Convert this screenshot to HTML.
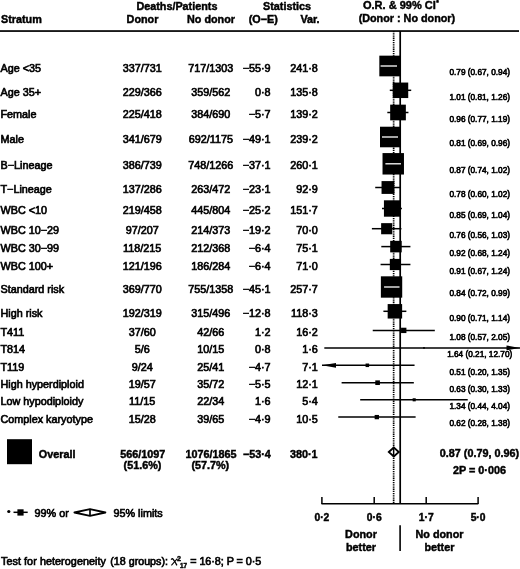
<!DOCTYPE html>
<html><head><meta charset="utf-8"><style>
html,body{margin:0;padding:0;background:#fff;}
svg{display:block;}
text{font-family:"Liberation Sans",sans-serif;fill:#000;stroke:#000;stroke-width:0.65px;}
text[font-weight=bold]{stroke-width:0.45px;}
svg{filter:grayscale(1);}
</style></head><body>
<svg width="520" height="569" viewBox="0 0 520 569">
<text x="176.90" y="9.50" text-anchor="middle" font-weight="bold" font-size="10.8">Deaths/Patients</text>
<text x="287.00" y="9.50" text-anchor="middle" font-weight="bold" font-size="10.8">Statistics</text>
<text x="363.00" y="9.40" font-weight="bold" font-size="11">O.R. &amp; 99% CI<tspan font-size="6.5" dx="0.4" dy="-4.5">*</tspan></text>
<text x="1.00" y="22.50" font-weight="bold" font-size="10.8">Stratum</text>
<text x="142.50" y="22.50" text-anchor="middle" font-weight="bold" font-size="10.8">Donor</text>
<text x="211.00" y="22.50" text-anchor="middle" font-weight="bold" font-size="10.8">No donor</text>
<text x="263.20" y="22.50" text-anchor="middle" font-weight="bold" font-size="10.8">(O−E)</text>
<text x="310.00" y="22.50" text-anchor="middle" font-weight="bold" font-size="10.8">Var.</text>
<text x="406.90" y="22.00" text-anchor="middle" font-weight="bold" font-size="10.8">(Donor : No donor)</text>
<rect x="0" y="30.2" width="519" height="1.7" fill="#000"/>
<line x1="393.65" y1="31" x2="393.65" y2="503" stroke="#000" stroke-width="1.7" stroke-dasharray="1.3 0.9"/>
<line x1="400.2" y1="31" x2="400.2" y2="504" stroke="#000" stroke-width="1.7"/>
<text x="0.50" y="71.50" font-size="10.8">Age <35</text>
<text x="142.20" y="71.50" text-anchor="middle" font-size="10.8">337/731</text>
<text x="210.80" y="71.50" text-anchor="middle" font-size="10.8">717/1303</text>
<text x="270.60" y="71.50" text-anchor="end" font-size="10.8">−55·9</text>
<text x="317.80" y="71.50" text-anchor="end" font-size="10.8">241·8</text>
<text x="479.70" y="75.20" text-anchor="middle" font-size="8.25" style="stroke-width:0.6px">0.79 (0.67, 0.94)</text>
<rect x="379.33" y="55.66" width="20.68" height="20.68" fill="#000"/>
<line x1="380.58" y1="66.00" x2="397.00" y2="66.00" stroke="#fff" stroke-width="1.3"/>
<text x="0.50" y="95.80" font-size="10.8">Age 35+</text>
<text x="142.20" y="95.80" text-anchor="middle" font-size="10.8">229/366</text>
<text x="210.80" y="95.80" text-anchor="middle" font-size="10.8">359/562</text>
<text x="270.60" y="95.80" text-anchor="end" font-size="10.8">0·8</text>
<text x="317.80" y="95.80" text-anchor="end" font-size="10.8">135·8</text>
<text x="479.70" y="99.50" text-anchor="middle" font-size="8.25" style="stroke-width:0.6px">1.01 (0.81, 1.26)</text>
<line x1="389.78" y1="90.30" x2="411.21" y2="90.30" stroke="#000" stroke-width="1.5"/>
<rect x="392.73" y="82.55" width="15.50" height="15.50" fill="#000"/>
<text x="0.50" y="118.00" font-size="10.8">Female</text>
<text x="142.20" y="118.00" text-anchor="middle" font-size="10.8">225/418</text>
<text x="210.80" y="118.00" text-anchor="middle" font-size="10.8">384/690</text>
<text x="270.60" y="118.00" text-anchor="end" font-size="10.8">−5·7</text>
<text x="317.80" y="118.00" text-anchor="end" font-size="10.8">139·2</text>
<text x="479.70" y="121.70" text-anchor="middle" font-size="8.25" style="stroke-width:0.6px">0.96 (0.77, 1.19)</text>
<line x1="387.32" y1="112.50" x2="408.44" y2="112.50" stroke="#000" stroke-width="1.5"/>
<rect x="390.17" y="104.65" width="15.69" height="15.69" fill="#000"/>
<text x="0.50" y="142.50" font-size="10.8">Male</text>
<text x="142.20" y="142.50" text-anchor="middle" font-size="10.8">341/679</text>
<text x="210.80" y="142.50" text-anchor="middle" font-size="10.8">692/1175</text>
<text x="270.60" y="142.50" text-anchor="end" font-size="10.8">−49·1</text>
<text x="317.80" y="142.50" text-anchor="end" font-size="10.8">239·2</text>
<text x="479.70" y="146.20" text-anchor="middle" font-size="8.25" style="stroke-width:0.6px">0.81 (0.69, 0.96)</text>
<rect x="380.00" y="126.72" width="20.57" height="20.57" fill="#000"/>
<line x1="382.00" y1="137.00" x2="398.02" y2="137.00" stroke="#fff" stroke-width="1.3"/>
<text x="0.50" y="169.30" font-size="10.8">B−Lineage</text>
<text x="142.20" y="169.30" text-anchor="middle" font-size="10.8">386/739</text>
<text x="210.80" y="169.30" text-anchor="middle" font-size="10.8">748/1266</text>
<text x="270.60" y="169.30" text-anchor="end" font-size="10.8">−37·1</text>
<text x="317.80" y="169.30" text-anchor="end" font-size="10.8">260·1</text>
<text x="479.70" y="173.00" text-anchor="middle" font-size="8.25" style="stroke-width:0.6px">0.87 (0.74, 1.02)</text>
<rect x="382.52" y="153.08" width="21.45" height="21.45" fill="#000"/>
<line x1="385.40" y1="163.80" x2="400.96" y2="163.80" stroke="#fff" stroke-width="1.3"/>
<text x="0.50" y="193.00" font-size="10.8">T−Lineage</text>
<text x="142.20" y="193.00" text-anchor="middle" font-size="10.8">137/286</text>
<text x="210.80" y="193.00" text-anchor="middle" font-size="10.8">263/472</text>
<text x="270.60" y="193.00" text-anchor="end" font-size="10.8">−23·1</text>
<text x="317.80" y="193.00" text-anchor="end" font-size="10.8">92·9</text>
<text x="479.70" y="196.70" text-anchor="middle" font-size="8.25" style="stroke-width:0.6px">0.78 (0.60, 1.02)</text>
<line x1="375.22" y1="187.50" x2="400.96" y2="187.50" stroke="#000" stroke-width="1.5"/>
<rect x="381.54" y="181.09" width="12.82" height="12.82" fill="#000"/>
<text x="0.50" y="214.00" font-size="10.8">WBC <10</text>
<text x="142.20" y="214.00" text-anchor="middle" font-size="10.8">219/458</text>
<text x="210.80" y="214.00" text-anchor="middle" font-size="10.8">445/804</text>
<text x="270.60" y="214.00" text-anchor="end" font-size="10.8">−25·2</text>
<text x="317.80" y="214.00" text-anchor="end" font-size="10.8">151·7</text>
<text x="479.70" y="217.70" text-anchor="middle" font-size="8.25" style="stroke-width:0.6px">0.85 (0.69, 1.04)</text>
<line x1="382.00" y1="208.50" x2="401.90" y2="208.50" stroke="#000" stroke-width="1.5"/>
<rect x="383.93" y="200.31" width="16.38" height="16.38" fill="#000"/>
<text x="0.50" y="234.20" font-size="10.8">WBC 10−29</text>
<text x="142.20" y="234.20" text-anchor="middle" font-size="10.8">97/207</text>
<text x="210.80" y="234.20" text-anchor="middle" font-size="10.8">214/373</text>
<text x="270.60" y="234.20" text-anchor="end" font-size="10.8">−19·2</text>
<text x="317.80" y="234.20" text-anchor="end" font-size="10.8">70·0</text>
<text x="479.70" y="237.90" text-anchor="middle" font-size="8.25" style="stroke-width:0.6px">0.76 (0.56, 1.03)</text>
<line x1="371.88" y1="228.70" x2="401.43" y2="228.70" stroke="#000" stroke-width="1.5"/>
<rect x="381.13" y="223.14" width="11.13" height="11.13" fill="#000"/>
<text x="0.50" y="252.10" font-size="10.8">WBC 30−99</text>
<text x="142.20" y="252.10" text-anchor="middle" font-size="10.8">118/215</text>
<text x="210.80" y="252.10" text-anchor="middle" font-size="10.8">212/368</text>
<text x="270.60" y="252.10" text-anchor="end" font-size="10.8">−6·4</text>
<text x="317.80" y="252.10" text-anchor="end" font-size="10.8">75·1</text>
<text x="479.70" y="255.80" text-anchor="middle" font-size="8.25" style="stroke-width:0.6px">0.92 (0.68, 1.24)</text>
<line x1="381.30" y1="246.60" x2="410.43" y2="246.60" stroke="#000" stroke-width="1.5"/>
<rect x="390.19" y="240.84" width="11.53" height="11.53" fill="#000"/>
<text x="0.50" y="270.00" font-size="10.8">WBC 100+</text>
<text x="142.20" y="270.00" text-anchor="middle" font-size="10.8">121/196</text>
<text x="210.80" y="270.00" text-anchor="middle" font-size="10.8">186/284</text>
<text x="270.60" y="270.00" text-anchor="end" font-size="10.8">−6·4</text>
<text x="317.80" y="270.00" text-anchor="end" font-size="10.8">71·0</text>
<text x="479.70" y="273.70" text-anchor="middle" font-size="8.25" style="stroke-width:0.6px">0.91 (0.67, 1.24)</text>
<line x1="380.58" y1="264.50" x2="410.43" y2="264.50" stroke="#000" stroke-width="1.5"/>
<rect x="389.82" y="258.90" width="11.21" height="11.21" fill="#000"/>
<text x="0.50" y="292.50" font-size="10.8">Standard risk</text>
<text x="142.20" y="292.50" text-anchor="middle" font-size="10.8">369/770</text>
<text x="210.80" y="292.50" text-anchor="middle" font-size="10.8">755/1358</text>
<text x="270.60" y="292.50" text-anchor="end" font-size="10.8">−45·1</text>
<text x="317.80" y="292.50" text-anchor="end" font-size="10.8">257·7</text>
<text x="479.70" y="296.20" text-anchor="middle" font-size="8.25" style="stroke-width:0.6px">0.84 (0.72, 0.99)</text>
<rect x="380.87" y="276.32" width="21.35" height="21.35" fill="#000"/>
<line x1="384.07" y1="287.00" x2="399.51" y2="287.00" stroke="#fff" stroke-width="1.3"/>
<text x="0.50" y="316.80" font-size="10.8">High risk</text>
<text x="142.20" y="316.80" text-anchor="middle" font-size="10.8">192/319</text>
<text x="210.80" y="316.80" text-anchor="middle" font-size="10.8">315/496</text>
<text x="270.60" y="316.80" text-anchor="end" font-size="10.8">−12·8</text>
<text x="317.80" y="316.80" text-anchor="end" font-size="10.8">118·3</text>
<text x="479.70" y="320.50" text-anchor="middle" font-size="8.25" style="stroke-width:0.6px">0.90 (0.71, 1.14)</text>
<line x1="383.39" y1="311.30" x2="406.35" y2="311.30" stroke="#000" stroke-width="1.5"/>
<rect x="387.66" y="304.07" width="14.47" height="14.47" fill="#000"/>
<text x="0.50" y="335.90" font-size="10.8">T411</text>
<text x="142.20" y="335.90" text-anchor="middle" font-size="10.8">37/60</text>
<text x="210.80" y="335.90" text-anchor="middle" font-size="10.8">42/66</text>
<text x="270.60" y="335.90" text-anchor="end" font-size="10.8">1·2</text>
<text x="317.80" y="335.90" text-anchor="end" font-size="10.8">16·2</text>
<text x="479.70" y="339.60" text-anchor="middle" font-size="8.25" style="stroke-width:0.6px">1.08 (0.57, 2.05)</text>
<line x1="372.74" y1="330.40" x2="434.82" y2="330.40" stroke="#000" stroke-width="1.5"/>
<rect x="401.06" y="327.72" width="5.35" height="5.35" fill="#000"/>
<text x="0.50" y="353.40" font-size="10.8">T814</text>
<text x="142.20" y="353.40" text-anchor="middle" font-size="10.8">5/6</text>
<text x="210.80" y="353.40" text-anchor="middle" font-size="10.8">10/15</text>
<text x="270.60" y="353.40" text-anchor="end" font-size="10.8">0·8</text>
<text x="317.80" y="353.40" text-anchor="end" font-size="10.8">1·6</text>
<text x="479.70" y="357.10" text-anchor="middle" font-size="8.25" style="stroke-width:0.6px">1.64 (0.21, 12.70)</text>
<line x1="324.31" y1="347.90" x2="520.00" y2="347.90" stroke="#000" stroke-width="1.5"/>
<rect x="423.15" y="347.06" width="1.68" height="1.68" fill="#000"/>
<path d="M520 347.90 L506.5 345.50 L506.5 350.30 Z" fill="#000"/>
<text x="0.50" y="370.80" font-size="10.8">T119</text>
<text x="142.20" y="370.80" text-anchor="middle" font-size="10.8">9/24</text>
<text x="210.80" y="370.80" text-anchor="middle" font-size="10.8">25/41</text>
<text x="270.60" y="370.80" text-anchor="end" font-size="10.8">−4·7</text>
<text x="317.80" y="370.80" text-anchor="end" font-size="10.8">7·1</text>
<text x="479.70" y="374.50" text-anchor="middle" font-size="8.25" style="stroke-width:0.6px">0.51 (0.20, 1.35)</text>
<line x1="322.00" y1="365.30" x2="414.56" y2="365.30" stroke="#000" stroke-width="1.5"/>
<rect x="365.57" y="363.53" width="3.54" height="3.54" fill="#000"/>
<path d="M321.8 365.30 L336 362.90 L336 367.70 Z" fill="#000"/>
<text x="0.50" y="388.20" font-size="10.8">High hyperdiploid</text>
<text x="142.20" y="388.20" text-anchor="middle" font-size="10.8">19/57</text>
<text x="210.80" y="388.20" text-anchor="middle" font-size="10.8">35/72</text>
<text x="270.60" y="388.20" text-anchor="end" font-size="10.8">−5·5</text>
<text x="317.80" y="388.20" text-anchor="end" font-size="10.8">12·1</text>
<text x="479.70" y="391.90" text-anchor="middle" font-size="8.25" style="stroke-width:0.6px">0.63 (0.30, 1.33)</text>
<line x1="341.61" y1="382.70" x2="413.83" y2="382.70" stroke="#000" stroke-width="1.5"/>
<rect x="375.28" y="380.39" width="4.63" height="4.63" fill="#000"/>
<text x="0.50" y="405.30" font-size="10.8">Low hypodiploidy</text>
<text x="142.20" y="405.30" text-anchor="middle" font-size="10.8">11/15</text>
<text x="210.80" y="405.30" text-anchor="middle" font-size="10.8">22/34</text>
<text x="270.60" y="405.30" text-anchor="end" font-size="10.8">1·6</text>
<text x="317.80" y="405.30" text-anchor="end" font-size="10.8">5·4</text>
<text x="479.70" y="409.00" text-anchor="middle" font-size="8.25" style="stroke-width:0.6px">1.34 (0.44, 4.04)</text>
<line x1="360.18" y1="399.80" x2="467.72" y2="399.80" stroke="#000" stroke-width="1.5"/>
<rect x="412.65" y="398.25" width="3.09" height="3.09" fill="#000"/>
<text x="0.50" y="422.60" font-size="10.8">Complex karyotype</text>
<text x="142.20" y="422.60" text-anchor="middle" font-size="10.8">15/28</text>
<text x="210.80" y="422.60" text-anchor="middle" font-size="10.8">39/65</text>
<text x="270.60" y="422.60" text-anchor="end" font-size="10.8">−4·9</text>
<text x="317.80" y="422.60" text-anchor="end" font-size="10.8">10·5</text>
<text x="479.70" y="426.30" text-anchor="middle" font-size="8.25" style="stroke-width:0.6px">0.62 (0.28, 1.38)</text>
<line x1="338.26" y1="417.10" x2="415.62" y2="417.10" stroke="#000" stroke-width="1.5"/>
<rect x="374.66" y="414.95" width="4.31" height="4.31" fill="#000"/>
<rect x="7" y="439.2" width="25" height="25" fill="#000"/>
<text x="38.80" y="457.70" font-weight="bold" font-size="10.8">Overall</text>
<text x="142.70" y="457.70" text-anchor="middle" font-weight="bold" font-size="10.8">566/1097</text>
<text x="142.50" y="469.40" text-anchor="middle" font-weight="bold" font-size="10.8">(51.6%)</text>
<text x="211.00" y="457.70" text-anchor="middle" font-weight="bold" font-size="10.8">1076/1865</text>
<text x="210.30" y="469.40" text-anchor="middle" font-weight="bold" font-size="10.8">(57.7%)</text>
<text x="270.80" y="457.70" text-anchor="end" font-weight="bold" font-size="10.8">−53·4</text>
<text x="317.60" y="457.70" text-anchor="end" font-weight="bold" font-size="10.8">380·1</text>
<path d="M388.8 452 L393.8 447.5 L398.8 452 L393.8 456.5 Z" fill="#fff" stroke="#000" stroke-width="1.8"/>
<line x1="393.65" y1="448.00" x2="393.65" y2="456.00" stroke="#000" stroke-width="1.5"/>
<text x="479.40" y="456.90" text-anchor="middle" font-weight="bold" font-size="10.8">0.87 (0.79, 0.96)</text>
<text x="479.50" y="473.80" text-anchor="middle" font-weight="bold" font-size="10.8">2P = 0·006</text>
<line x1="321.5" y1="503.7" x2="478.3" y2="503.7" stroke="#000" stroke-width="1.6"/>
<line x1="321.90" y1="497" x2="321.90" y2="504" stroke="#000" stroke-width="1.5"/>
<text x="321.90" y="521.00" text-anchor="middle" font-weight="bold" font-size="10.3">0·2</text>
<line x1="374.20" y1="497" x2="374.20" y2="504" stroke="#000" stroke-width="1.5"/>
<text x="374.20" y="521.00" text-anchor="middle" font-weight="bold" font-size="10.3">0·6</text>
<line x1="426.20" y1="497" x2="426.20" y2="504" stroke="#000" stroke-width="1.5"/>
<text x="426.20" y="521.00" text-anchor="middle" font-weight="bold" font-size="10.3">1·7</text>
<line x1="478.10" y1="497" x2="478.10" y2="504" stroke="#000" stroke-width="1.5"/>
<text x="478.10" y="521.00" text-anchor="middle" font-weight="bold" font-size="10.3">5·0</text>
<text x="361.00" y="538.20" text-anchor="middle" font-weight="bold" font-size="10.8">Donor</text>
<text x="361.00" y="551.10" text-anchor="middle" font-weight="bold" font-size="10.8">better</text>
<text x="439.50" y="538.20" text-anchor="middle" font-weight="bold" font-size="10.8">No donor</text>
<text x="439.40" y="551.10" text-anchor="middle" font-weight="bold" font-size="10.8">better</text>
<line x1="400.1" y1="525.2" x2="400.1" y2="551.1" stroke="#000" stroke-width="1.6"/>
<circle cx="8.8" cy="511.5" r="1.6" fill="#000"/>
<line x1="13.5" y1="512.3" x2="27.7" y2="512.3" stroke="#000" stroke-width="1.5"/>
<rect x="17.4" y="509.3" width="6.2" height="6.3" fill="#000"/>
<text x="34.60" y="517.30" font-size="10.8">99% or</text>
<path d="M74.4 512.5 L90 509.1 L105.4 512.5 L90 515.9 Z" fill="#fff" stroke="#000" stroke-width="1.8" stroke-linejoin="round"/>
<line x1="90" y1="509.1" x2="90" y2="515.9" stroke="#000" stroke-width="1.7"/>
<text x="113.50" y="517.30" font-size="10.8">95% limits</text>
<text x="1.00" y="565.40" font-size="10.8" textLength="105" lengthAdjust="spacing">Test for heterogeneity</text>
<text x="110.30" y="565.40" font-size="10.7">(18 groups):</text>
<path d="M171.2 559.6 Q171.8 558.3 172.8 558.9 Q174.2 560.5 176.9 565.3" fill="none" stroke="#000" stroke-width="1.35"/>
<path d="M177.3 558.6 L171.4 565.4" fill="none" stroke="#000" stroke-width="1.1"/>
<text x="176.90" y="560.60" font-weight="bold" font-size="7.2">2</text>
<text x="179.90" y="568.20" font-weight="bold" font-size="6.3">17</text>
<text x="190.20" y="565.40" font-size="10.8" textLength="71" lengthAdjust="spacing">= 16·8; P = 0·5</text>
</svg>
</body></html>
